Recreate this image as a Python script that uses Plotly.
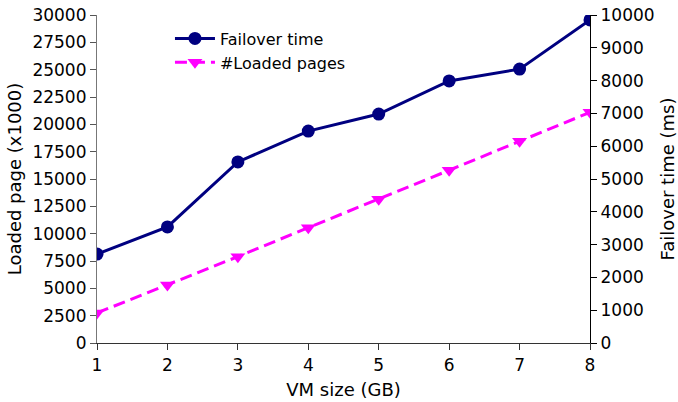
import plotly.graph_objects as go

vm_size = [1, 2, 3, 4, 5, 6, 7, 8]
failover_ms = [2710, 3540, 5520, 6460, 6980, 7990, 8350, 9850]
loaded_pages = [2750, 5300, 7900, 10550, 13150, 15800, 18450, 21100]

left_ticks = list(range(0, 30001, 2500))
right_ticks = list(range(0, 10001, 1000))

fig = go.Figure()
fig.add_trace(go.Scatter(
    x=vm_size, y=failover_ms, name="Failover time", yaxis="y2",
    mode="lines+markers",
    line=dict(color="#000080", width=3),
    marker=dict(symbol="circle", size=13, color="#000080"),
))
fig.add_trace(go.Scatter(
    x=vm_size, y=loaded_pages, name="#Loaded pages", yaxis="y",
    mode="lines+markers",
    line=dict(color="#ff00ff", width=3, dash="12px,6px"),
    marker=dict(symbol="triangle-down", size=13, color="#ff00ff"),
))

font = dict(family="DejaVu Sans", size=15, color="black")
tickfont = dict(family="DejaVu Sans", size=17, color="black")
fig.update_layout(
    width=678, height=402, autosize=False,
    margin=dict(l=97, r=88, t=15, b=59, autoexpand=False),
    paper_bgcolor="white", plot_bgcolor="white",
    font=font,
    showlegend=True,
    legend=dict(x=0.148, y=0.98, xanchor="left", yanchor="top",
                bgcolor="rgba(0,0,0,0)", font=dict(family="DejaVu Sans", size=16),
                tracegroupgap=0, itemwidth=40),
    xaxis=dict(range=[1, 8], tickvals=vm_size, showgrid=False, zeroline=False,
               automargin=False,
               showline=True, linecolor="#333333", linewidth=1.2,
               ticks="outside", ticklen=6, tickcolor="#333333", tickfont=tickfont,
               title=dict(text="VM size (GB)", standoff=9)),
    yaxis=dict(range=[0, 30000], tickvals=left_ticks, tickformat="d",
               automargin=False,
               showgrid=False, zeroline=False,
               showline=True, linecolor="#777777", linewidth=1.2,
               ticks="outside", ticklen=6, tickcolor="#555555", tickfont=tickfont,
               title=dict(text="Loaded page (x1000)", standoff=6)),
    yaxis2=dict(range=[0, 10000], tickvals=right_ticks, tickformat="d",
                automargin=False,
                overlaying="y", side="right",
                showgrid=False, zeroline=False,
                showline=True, linecolor="black", linewidth=1.2,
                ticks="outside", ticklen=6, tickcolor="black", tickfont=tickfont,
                title=dict(text="Failover time (ms)", standoff=12)),
)
fig.write_html("out.html", config={"displayModeBar": False},
               post_script="document.body.style.margin='0';")
